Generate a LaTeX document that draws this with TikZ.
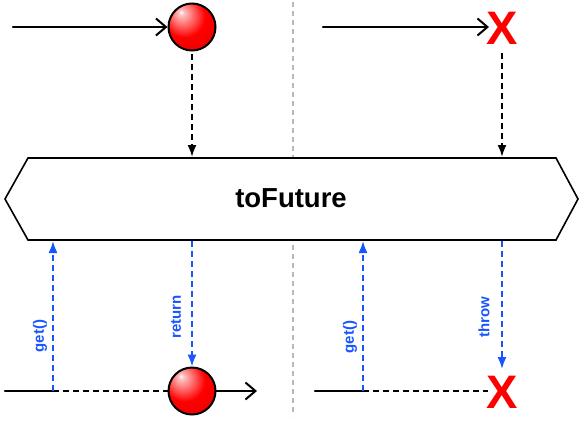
\documentclass[tikz,border=0pt]{standalone}
\usepackage{fontspec}
\setmainfont{Liberation Sans}
\usetikzlibrary{arrows.meta}
\definecolor{getblue}{RGB}{25,85,255}
\pgfdeclareradialshading{redball}{\pgfpoint{-12bp}{16bp}}{color(0bp)=(white); color(3bp)=(red!25!white); color(22bp)=(red); color(50bp)=(red!88!black); color(70bp)=(red!75!black)}
\begin{document}
\begin{tikzpicture}[x=1pt,y=-1pt,
  ball/.style={circle,draw=black,line width=2pt,minimum size=47pt,inner sep=0pt,shading=redball},
  xmark/.style={text=red,font=\fontsize{47}{47}\selectfont\bfseries,inner sep=0pt},
  tline/.style={line width=2.2pt,line cap=round},
  openarrow/.style={-{Straight Barb[length=10pt,width=17pt,line width=2pt]}},
  bdash/.style={line width=2pt,dash pattern=on 6pt off 4pt,-{Latex[length=12pt,width=9pt]}},
  bludash/.style={getblue,line width=1.8pt,dash pattern=on 6pt off 4pt,-{Latex[length=12pt,width=9pt]}},
  lbl/.style={getblue,rotate=90,font=\fontsize{15}{15}\selectfont\bfseries,inner sep=0pt},
  blkdash/.style={line width=2pt,dash pattern=on 6pt off 4pt}
]
\useasboundingbox (0,0) rectangle (580,423);
% divider
\coordinate (d1) at (293,2);
\coordinate (d2) at (293,416);
\draw[gray!55,line width=1.8pt,dash pattern=on 5pt off 4pt] (d1) -- (d2);
% operator box
\draw[line width=1.6pt,fill=white] (5,199) -- (28,158) -- (556,158) -- (578,199) -- (556,240) -- (28,240) -- cycle;
\node[font=\fontsize{27.5}{27.5}\selectfont\bfseries] (op) at (291,198) {toFuture};
\coordinate (h1) at (192,157);
\coordinate (h2) at (502,157);
\coordinate (h3) at (53,241);
\coordinate (h4) at (192,241);
\coordinate (h5) at (363,241);
\coordinate (h6) at (502,241);
% top left
\coordinate (s1) at (13,27);
\node[ball] (b1) at (192,27) {};
\draw[tline,openarrow] (s1) -- (b1.west);
\coordinate (b1b) at (192,54);
\draw[bdash] (b1b) -- (h1);
% top right
\coordinate (s2) at (323,27);
\node[xmark] (x1) at (502,28) {X};
\coordinate (x1w) at (489,27);
\draw[tline,openarrow] (s2) -- (x1w);
\coordinate (x1b) at (502,53);
\draw[bdash] (x1b) -- (h2);
% bottom left
\coordinate (s3) at (5,391);
\coordinate (g1) at (53,391);
\node[ball] (b2) at (192,391) {};
\coordinate (e3) at (257,391);
\draw[tline] (s3) -- (g1);
\draw[blkdash] (g1) -- (b2.west);
\draw[tline,openarrow] (b2.east) -- (e3);
\draw[bludash] (g1) -- (h3);
\node[lbl] (l1) at (40,336) {get()};
\draw[bludash] (h4) -- (b2.north);
\node[lbl] (l2) at (176,317) {return};
% bottom right
\coordinate (s4) at (315,391);
\coordinate (g2) at (363,391);
\node[xmark] (x2) at (502,392) {X};
\coordinate (x2t) at (502,369);
\coordinate (x2w) at (488,391);
\draw[tline] (s4) -- (g2);
\draw[blkdash] (g2) -- (x2w);
\draw[bludash] (g2) -- (h5);
\node[lbl] (l3) at (350,337) {get()};
\draw[bludash] (h6) -- (x2t);
\node[lbl] (l4) at (484,317) {throw};
\end{tikzpicture}
\end{document}
